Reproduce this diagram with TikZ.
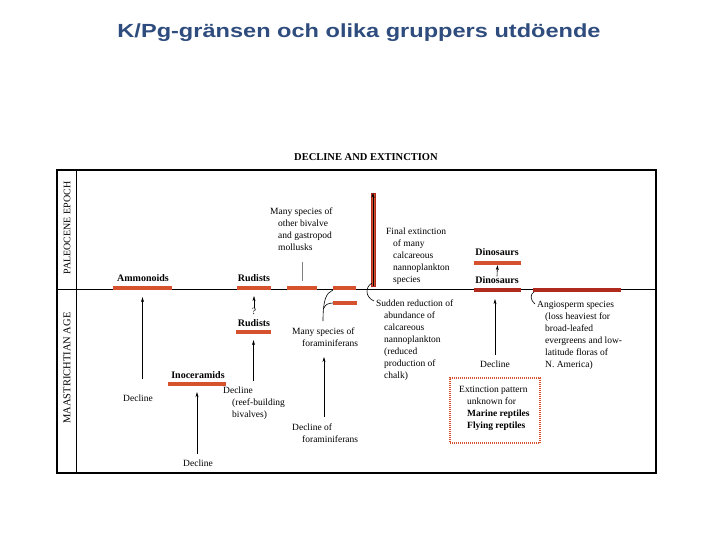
\documentclass[tikz,border=0pt]{standalone}
\usepackage{fontspec}
\setmainfont{Liberation Serif}
\newfontfamily\titlefont{Liberation Sans}
\usetikzlibrary{arrows.meta}
\definecolor{barred}{RGB}{214,82,46}
\definecolor{bardark}{RGB}{176,42,30}
\definecolor{titleblue}{RGB}{46,76,125}
\tikzset{
  bar/.style={fill=barred, draw=none, minimum height=3.8, inner sep=0},
  darkbar/.style={bar, fill=bardark},
  lbl/.style={font=\fontsize{9.5}{12}\selectfont, inner sep=0, align=left},
  blbl/.style={font=\fontsize{10}{12}\selectfont\bfseries, inner sep=0},
  arr/.style={-{Stealth[length=5pt,width=3pt]}, line width=0.6},
  conn/.style={line width=0.6},
}
\begin{document}
\begin{tikzpicture}[x=1pt,y=-1pt]
\useasboundingbox (0,0) rectangle (720,540);
% title
\node[font=\titlefont\fontsize{19}{22}\selectfont\bfseries, text=titleblue, inner sep=0] (title) at (359,33) {\scalebox{1.24}[1]{K/Pg-gränsen och olika gruppers utdöende}};
% header
\node[font=\fontsize{10.5}{12}\selectfont\bfseries, inner sep=0] (head) at (366,157) {DECLINE AND EXTINCTION};
% frame
\draw[line width=1.2] (57,170) rectangle (656,473);
\draw[line width=1] (76,170) -- (76,473);
\draw[line width=0.9] (57,289) -- (656,289);
\node[font=\fontsize{10}{12}\selectfont, rotate=90, inner sep=0] (paleo) at (67,228) {PALEOCENE EPOCH};
\node[font=\fontsize{10.5}{12}\selectfont, rotate=90, inner sep=0] (maas) at (67,368) {MAASTRICHTIAN AGE};
% bars
\node[bar, minimum width=59] (amm) at (142.5,288) {};
\node[bar, minimum width=34] (rud1) at (254,288) {};
\node[bar, minimum width=30] (biv) at (302,288) {};
\node[bar, minimum width=23] (for1) at (344.5,288) {};
\node[bar, minimum width=24] (for2) at (345,303) {};
\node[bar, minimum width=4, minimum height=93, draw=bardark, line width=0.4] (nan) at (373,239.5) {};
\node[bar, minimum width=47] (dino1) at (497.5,263) {};
\node[darkbar, minimum width=47] (dino2) at (497.5,290) {};
\node[darkbar, minimum width=88] (ang) at (577,290) {};
\node[bar, minimum width=35] (rud2) at (253.5,332) {};
\node[bar, minimum width=58] (ino) at (197,384) {};
% nannoplankton arrow
\draw[arr] (nan.south) -- (nan.north);
% labels above boundary
\node[blbl] (ammL) at (143,278) {Ammonoids};
\node[blbl] (rud1L) at (254,278) {Rudists};
\node[lbl, anchor=north west] (bivT) at (270,208) {Many species of\\\hspace*{8pt}other bivalve\\\hspace*{8pt}and gastropod\\\hspace*{8pt}mollusks};
\draw[conn, gray] (biv.north) ++(0,-5) -- ++(0,-19);
\node[lbl, anchor=north west] (finT) at (386,228) {Final extinction\\\hspace*{7pt}of many\\\hspace*{7pt}calcareous\\\hspace*{7pt}nannoplankton\\\hspace*{7pt}species};
\node[blbl] (dino1L) at (497,252) {Dinosaurs};
\node[blbl] (dino2L) at (497,280) {Dinosaurs};
\draw[arr] (dino2L.north) -- (dino1.south);
% below boundary
\node[lbl] (decA) at (138,398) {Decline};
\draw[arr] (amm.south |- decA.north) ++(0,-15) -- ([yshift=-7pt]amm.south);
\node[lbl] (q) at (254,311) {?};
\draw[arr] (q.north) -- ([yshift=-6pt]rud1.south);
\node[blbl] (rud2L) at (254,323) {Rudists};
\node[lbl, anchor=north west] (decR) at (223,387) {Decline\\\hspace*{9pt}(reef-building\\\hspace*{9pt}bivalves)};
\draw[arr] (rud2.south |- decR.north) ++(0,-6) -- ([yshift=-6pt]rud2.south);
\node[blbl] (inoL) at (198,375) {Inoceramids};
\node[lbl] (decI) at (198,463) {Decline};
\draw[arr] ([yshift=5pt]decI.north -| ino.south) -- ([yshift=-6pt]ino.south);
\node[lbl, anchor=north west] (forT) at (292,328) {Many species of\\\hspace*{10pt}foraminiferans};
\coordinate (fs) at (323,321);
\coordinate (fb) at (324,308);
\draw[conn] (fs) .. controls (323,300) and (326,293) .. (for1.south west);
\draw[conn] (fb) .. controls (325,305) and (328,303) .. (for2.west);
\node[lbl, anchor=north west] (decF) at (292,424) {Decline of\\\hspace*{10pt}foraminiferans};
\draw[arr] (324,417) -- (324,357);
\node[lbl, anchor=north west] (sudT) at (376,300) {Sudden reduction of\\\hspace*{8pt}abundance of\\\hspace*{8pt}calcareous\\\hspace*{8pt}nannoplankton\\\hspace*{8pt}(reduced\\\hspace*{8pt}production of\\\hspace*{8pt}chalk)};
\coordinate (sa) at (372,283);
\coordinate (sb) at (374,301);
\draw[conn] (sa) .. controls (365,287) and (365,297) .. (sb);
\node[lbl, anchor=north west] (angT) at (537,301) {Angiosperm species\\\hspace*{8pt}(loss heaviest for\\\hspace*{8pt}broad-leafed\\\hspace*{8pt}evergreens and low-\\\hspace*{8pt}latitude floras of\\\hspace*{8pt}N. America)};
\coordinate (aa) at (534,292);
\coordinate (ab) at (535,304);
\draw[conn] (aa) .. controls (530,294) and (530,300) .. (ab);
\node[lbl] (decD) at (495,364) {Decline};
\draw[arr] ([yshift=5pt]decD.north) -- ([yshift=-7pt]decD.north |- dino2.south);
\node[draw=barred, line width=1.6, dash pattern=on 1pt off 1pt, minimum width=90, minimum height=65, inner sep=0] (box) at (495,410.5) {};
\node[lbl, anchor=north west] (boxT) at (459,386) {Extinction pattern\\\hspace*{8pt}unknown for\\\hspace*{8pt}\textbf{Marine reptiles}\\\hspace*{8pt}\textbf{Flying reptiles}};
\end{tikzpicture}
\end{document}
